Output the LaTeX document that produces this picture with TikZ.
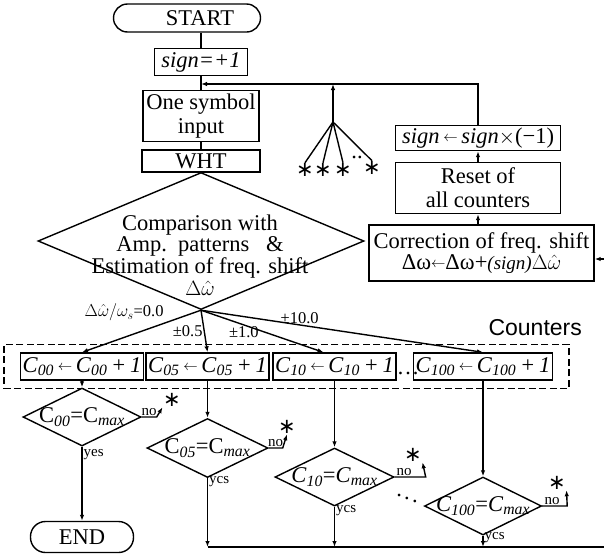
\documentclass[tikz,border=0pt]{standalone}
\usepackage{fontspec}
\setmainfont{Liberation Serif}
\setsansfont{Liberation Sans}
\newfontfamily\symfont{DejaVu Sans}
\usetikzlibrary{shapes.geometric,arrows.meta,fit}
\tikzstyle{box}      = [draw,rectangle,inner xsep=2pt,inner ysep=1pt,align=center]
\tikzstyle{terminal} = [draw,rectangle,rounded corners=14pt,inner sep=1pt]
\tikzstyle{decision} = [draw,diamond,inner sep=0pt]
\tikzstyle{astnode}  = [inner sep=0pt,font=\symfont\fontsize{21}{21}\selectfont]
\newcommand{\sarr}{\raisebox{2pt}{\fontsize{15}{15}\selectfont$\leftarrow$}}
\newcommand{\cinc}[1]{\textit{C}\textsubscript{\textit{#1}}\,\sarr\,\textit{C}\textsubscript{\textit{#1}}\,\textit{+\,1}}

\begin{document}
\begin{tikzpicture}[x=1pt,y=-1pt,line width=1.4pt,
                    font=\fontsize{22.5}{24}\selectfont,
                    arr/.style={-{Latex[length=6pt,width=4.5pt]}},
                    lbl/.style={font=\fontsize{16.5}{17}\selectfont,inner sep=1pt},
                    yn/.style={font=\fontsize{15}{16}\selectfont,inner sep=1pt}
                    ]
\useasboundingbox (0,0) rectangle (604,555);

    \node[terminal,minimum width=147pt,minimum height=28pt] (start) at (187,18) {\hspace*{26pt}START};
    \node[box,minimum width=93pt,minimum height=27pt] (sgn) at (201,62) {\textit{sign=+1}};
    \node[box,minimum width=116pt,minimum height=51pt] (input) at (201,116) {One symbol\\input};
    \node[box,minimum width=118pt,minimum height=22pt] (wht) at (201,161) {WHT};
    \node[decision,minimum width=326pt,minimum height=137pt] (cmp) at (201,241) {};
    \node[align=center,font=\fontsize{22.5}{21.7}\selectfont] (cmptxt) at (200,255)
        {Comparison with\\Amp.~~patterns~~~\&\\Estimation of freq. shift\\$\Delta\hat{\omega}$};

    \node[box,minimum width=165pt,minimum height=25pt] (flip) at (478,138) {\textit{sign}\,\sarr\,\textit{sign}$\times$(−1)};
    \node[box,minimum width=165pt,minimum height=51pt] (reset) at (478,188) {Reset of\\all counters};
    \node[box,minimum width=225pt,minimum height=56pt,font=\fontsize{22.5}{21}\selectfont] (corr) at (481.5,253)
        {Correction of freq. shift\\Δω\sarr Δω+{\fontsize{19}{19}\selectfont\textit{(sign)}}$\Delta\hat{\omega}$};

    \coordinate (join) at (201,84);
    \coordinate (fan) at (333,122);
    \node[astnode] (f1) at (305,170) {∗};
    \node[astnode] (f2) at (323,170) {∗};
    \node[astnode] (f3) at (343,170) {∗};
    \node[astnode] (f4) at (372,168) {∗};
    \node[anchor=base,inner sep=0pt] (fdots) at (357,158) {..};

    \node[box,minimum width=120pt,minimum height=27pt] (c00) at (82,366.5) {\cinc{00}};
    \node[box,minimum width=121pt,minimum height=27pt] (c05) at (207.5,366.5) {\cinc{05}};
    \node[box,minimum width=121pt,minimum height=27pt] (c10) at (334.5,366.5) {\cinc{10}};
    \node[anchor=base,inner sep=0pt] (cdots) at (408,374) {\dots};
    \node[box,minimum width=120pt,minimum height=27pt] (c100) at (483,366.5) {\cinc{100}};
    \node[draw,dashed,dash pattern=on 7pt off 3.5pt,line width=1.2pt,fit=(c00)(c100),inner xsep=16pt,inner ysep=8pt] (grp) {};
    \node[font=\sffamily\fontsize{23}{23}\selectfont,anchor=base east,inner sep=0pt] (ctrs)
        at ([xshift=13pt,yshift=8pt]grp.north east) {Counters};

    \node[decision,minimum width=118pt,minimum height=58pt] (d00) at (82,417) {};
    \node (t00) at (d00) {C\textsubscript{\textit{00}}=C\textsubscript{\textit{max}}};
    \node[decision,minimum width=121pt,minimum height=59pt] (d05) at (207.5,448) {};
    \node (t05) at (d05) {C\textsubscript{\textit{05}}=C\textsubscript{\textit{max}}};
    \node[decision,minimum width=119pt,minimum height=58pt] (d10) at (334.5,477) {};
    \node (t10) at (d10) {\textit{C}\textsubscript{\textit{10}}=\textit{C}\textsubscript{\textit{max}}};
    \node[decision,minimum width=117pt,minimum height=58pt] (d100) at (483,506) {};
    \node (t100) at (d100) {\textit{C}\textsubscript{\textit{100}}=\textit{C}\textsubscript{\textit{max}}};
    \node (vdots) at (407,495) {$\ddots$};

    \node[terminal,minimum width=103pt,minimum height=31pt,rounded corners=15pt] (end) at (82,537) {END};

    \node[astnode] (s00) at (172,400) {∗};
    \node[astnode] (s05) at (287,427) {∗};
    \node[astnode] (s10) at (413,455) {∗};
    \node[astnode] (s100) at (557,483) {∗};

    \coordinate (bus) at (207.5,547);
    \coordinate (ret) at (606,259);

    \draw (start.south -| sgn) -- (sgn);
    \draw (sgn) -- (input);
    \draw (input) -- (wht);
    \draw (wht) -- (cmp);
    \draw[arr] (flip) |- (join);
    \draw[arr] (fan) -- (fan |- join);
    \foreach \f in {f1,f2,f3,f4} \draw (fan) -- (\f.north);
    \draw[arr] (corr.north -| reset) -- (reset);
    \draw[arr] (reset) -- (flip);

    \draw[arr] (cmp.south) -- node[lbl,pos=0.3,above left] (l00) {$\Delta\hat{\omega}/\omega_s$=0.0} (c00.north);
    \draw[arr] (cmp.south) -- node[lbl,left] (l05) {±0.5} (c05.north);
    \draw[arr] (cmp.south) -- node[lbl,pos=0.35,below] (l10) {±1.0} ([xshift=-11pt]c10.north);
    \draw[arr] (cmp.south) -- node[lbl,pos=0.35,above] (l100) {±10.0} (c100.north);

    \draw[arr] (c00) -- (d00);
    \draw[arr] (c05) -- (d05);
    \draw[arr] (c10) -- (d10);
    \draw[arr] (c100) -- (d100);

    \draw[arr] (d00.east) -- node[yn,above] (n00) {no} ++(15,0) -- (s00.south west);
    \draw[arr] (d05.east) -- node[yn,above] (n05) {no} ++(14,0) -- (s05.south);
    \draw[arr] (d10.east) -- node[yn,above,pos=0.3] (n10) {no} ++(31,0) -- (s10.south east);
    \draw[arr] (d100.east) -- node[yn,above,pos=0.4] (n100) {no} ++(25,0) -- (s100.south east);

    \draw[arr] (d00) -- node[yn,pos=0.1,right] (y00) {yes} (end);
    \draw[arr] (d05) -- node[yn,pos=0.05,right] (y05) {ycs} (bus);
    \draw[arr] (d10) -- node[yn,pos=0.1,right] (y10) {ycs} (d10 |- bus);
    \draw[arr] (d100) -- node[yn,pos=0.2,right] (y100) {ycs} (d100 |- bus);
    \draw[arr] (bus) -| (ret) -- (ret -| corr.east);

\end{tikzpicture}
\end{document}
